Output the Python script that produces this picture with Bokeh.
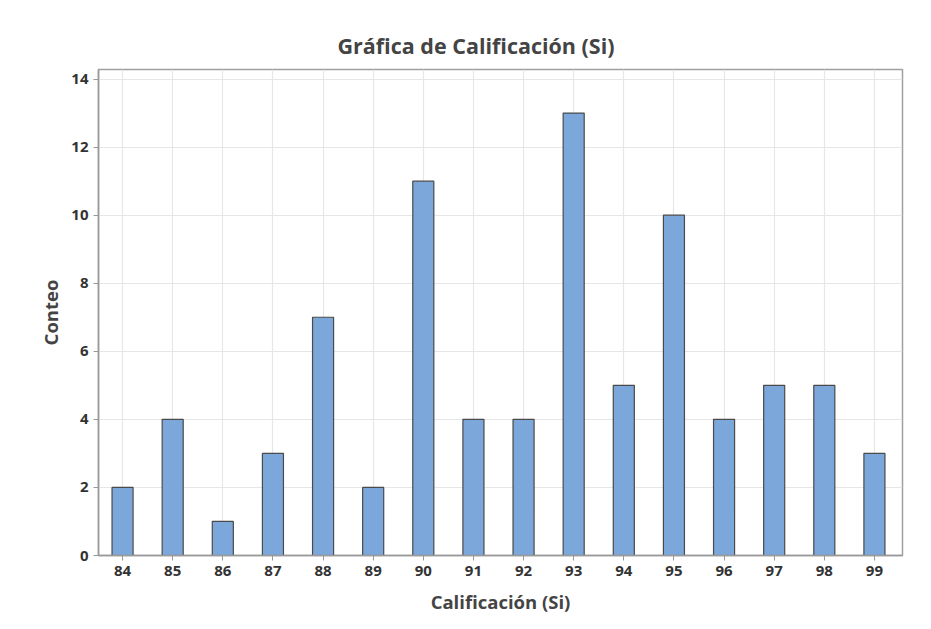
from bokeh.plotting import figure
from bokeh.models import Range1d, FixedTicker, ColumnDataSource
from bokeh.embed import file_html
from bokeh.resources import INLINE

scores = [84, 85, 86, 87, 88, 89, 90, 91, 92, 93, 94, 95, 96, 97, 98, 99]
counts = [2, 4, 1, 3, 7, 2, 11, 4, 4, 13, 5, 10, 4, 5, 5, 3]
y_ticks = [0, 2, 4, 6, 8, 10, 12, 14]

FONT = "Open Sans"

p = figure(width=923, height=621, output_backend="svg", toolbar_location=None,
           x_range=Range1d(83.52, 99.56), y_range=Range1d(0, 14.28),
           min_border_left=98, min_border_right=21, min_border_top=69, min_border_bottom=66,
           title="Gráfica de Calificación (Si)")

p.title.align = "left"
p.title.offset = 239
p.title.text_font = FONT
p.title.text_font_size = "21.5px"
p.title.text_font_style = "bold"
p.title.text_color = "#444444"
p.title.standoff = 19

src = ColumnDataSource(dict(x=scores, top=counts))
p.vbar(x="x", top="top", width=0.42, bottom=0, source=src,
       fill_color="#7BA7DA", line_color="#4a4a4a", line_width=1.2)

p.outline_line_color = "#a0a0a0"
p.outline_line_width = 1.5

for ax in (p.xaxis[0], p.yaxis[0]):
    ax.axis_line_color = "#999999"
    ax.axis_line_width = 1.5
    ax.major_tick_line_color = "#999999"
    ax.major_tick_out = 5
    ax.major_tick_in = 0
    ax.minor_tick_line_color = None
    ax.major_label_text_font = FONT
    ax.major_label_text_font_style = "bold"
    ax.major_label_text_font_size = "15px"
    ax.major_label_text_color = "#333333"
    ax.axis_label_text_font = FONT
    ax.axis_label_text_font_style = "bold"
    ax.axis_label_text_font_size = "18.5px"
    ax.axis_label_text_color = "#444444"

p.xaxis.ticker = FixedTicker(ticks=scores)
p.yaxis.ticker = FixedTicker(ticks=y_ticks)
p.xaxis.axis_label = "Calificación (Si)"
p.yaxis.axis_label = "Conteo"
p.xaxis.major_label_standoff = 5
p.yaxis.major_label_standoff = 5
p.xaxis.axis_label_standoff = 10
p.yaxis.axis_label_standoff = 5

p.xgrid.ticker = FixedTicker(ticks=scores)
p.ygrid.ticker = FixedTicker(ticks=y_ticks)
p.xgrid.grid_line_color = "#e6e6e6"
p.ygrid.grid_line_color = "#e6e6e6"
p.xgrid.grid_line_width = 1.2
p.ygrid.grid_line_width = 1.2

open("out.html", "w").write(file_html(p, INLINE))
